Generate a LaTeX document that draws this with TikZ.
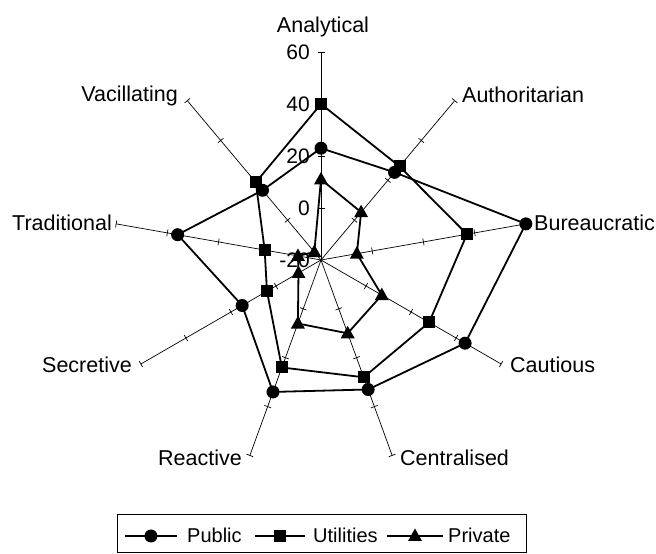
\documentclass[tikz,border=0pt]{standalone}
\usepackage{fontspec}
\setmainfont{Liberation Sans}
\usetikzlibrary{calc}
\begin{document}
\begin{tikzpicture}[x=1pt,y=1pt,
  axisline/.style={line width=0.7pt},
  serie/.style={line width=1.8pt, line join=miter},
  lbl/.style={inner sep=0pt, font=\fontsize{21.5}{25}\selectfont},
  tlbl/.style={inner sep=0pt, anchor=east, font=\fontsize{21}{25}\selectfont},
  lgd/.style={inner sep=0pt, anchor=west, font=\fontsize{20}{23}\selectfont}]
\useasboundingbox (0,0) rectangle (656,554);
\begin{scope}[shift={(321,294)}]
\foreach \i in {0,...,8}{
  \pgfmathsetmacro\ang{90-40*\i}
  \begin{scope}[rotate=\ang]
    \coordinate (o\i) at (0,0);
    \coordinate (e\i) at (208,0);
    \draw[axisline] (o\i) -- (e\i);
    \foreach \r in {52,104,156,208} \draw[axisline] (\r,-3.5) -- (\r,3.5);
  \end{scope}
}
\foreach \v [count=\k from 0] in {-20,0,20,40,60}
  \node[tlbl] (t\k) at (-11,52*\k) {\v};
\foreach \v [count=\i from 0] in {23,24,60,44,33,34,15,36,15}
  \coordinate (pu\i) at ({90-40*\i}:{(\v+20)*2.6});
\foreach \v [count=\i from 0] in {40,27,37,28,28,24,4,2,19}
  \coordinate (ut\i) at ({90-40*\i}:{(\v+20)*2.6});
\foreach \v [count=\i from 0] in {11,4,-6,7,10,6,-10,-11,-16}
  \coordinate (pr\i) at ({90-40*\i}:{(\v+20)*2.6});
% labels
\node[lbl, anchor=base] (lAna) at (2,227) {Analytical};
\node[lbl, anchor=base west] (lAut) at (141,157) {Authoritarian};
\node[lbl, anchor=base west] (lBur) at (213,29) {Bureaucratic};
\node[lbl, anchor=base west] (lCau) at (189,-113) {Cautious};
\node[lbl, anchor=base west] (lCen) at (79,-206) {Centralised};
\node[lbl, anchor=base east] (lRea) at (-79,-206) {Reactive};
\node[lbl, anchor=base east] (lSec) at (-189,-113) {Secretive};
\node[lbl, anchor=base east] (lTra) at (-209,29) {Traditional};
\node[lbl, anchor=base east] (lVac) at (-143,158) {Vacillating};
\end{scope}
% series
\draw[serie] (pu0) -- (pu1) -- (pu2) -- (pu3) -- (pu4) -- (pu5) -- (pu6) -- (pu7) -- (pu8) -- cycle;
\foreach \i in {0,...,8} \fill (pu\i) circle (6.5);
\draw[serie] (ut0) -- (ut1) -- (ut2) -- (ut3) -- (ut4) -- (ut5) -- (ut6) -- (ut7) -- (ut8) -- cycle;
\foreach \i in {0,...,8} \fill (ut\i) ++(-6,-6) rectangle ++(12,12);
\draw[serie] (pr0) -- (pr1) -- (pr2) -- (pr3) -- (pr4) -- (pr5) -- (pr6) -- (pr7) -- (pr8) -- cycle;
\foreach \i in {0,...,8} \fill (pr\i) ++(0,7.5) -- ++(-7,-12.5) -- ++(14,0) -- cycle;
% legend
\draw[line width=1pt] (117,1.5) rectangle (526,39);
\coordinate (la1) at (125,18); \coordinate (lb1) at (177,18);
\draw[serie] (la1) -- (lb1);
\fill ($(la1)!0.5!(lb1)$) circle (6.5);
\node[lgd] (lg1) at (187,19) {Public};
\coordinate (la2) at (255,18); \coordinate (lb2) at (305,18);
\draw[serie] (la2) -- (lb2);
\fill ($(la2)!0.5!(lb2)$) ++(-6,-6) rectangle ++(12,12);
\node[lgd] (lg2) at (313,19) {Utilities};
\coordinate (la3) at (387,18); \coordinate (lb3) at (443,18);
\draw[serie] (la3) -- (lb3);
\fill ($(la3)!0.5!(lb3)$) ++(0,7.5) -- ++(-7,-12.5) -- ++(14,0) -- cycle;
\node[lgd] (lg3) at (448,19) {Private};
\end{tikzpicture}
\end{document}
